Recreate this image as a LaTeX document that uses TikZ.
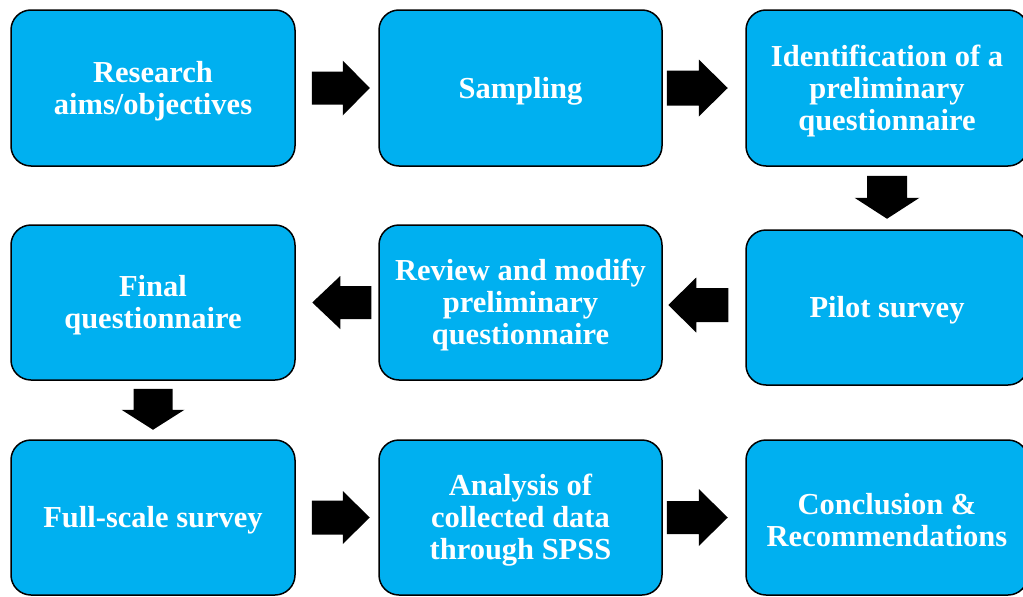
\documentclass[tikz,border=0pt]{standalone}
\usepackage{fontspec}
\setmainfont{Liberation Serif}
\usetikzlibrary{calc}
\definecolor{boxblue}{HTML}{00B0F0}
\tikzset{
  stepbox/.style={draw=black, line width=1.5pt, fill=boxblue, rounded corners=20pt, inner sep=0pt},
  steptext/.style={text=white, font=\bfseries\fontsize{30.5}{32}\selectfont, align=center, inner sep=0pt},
  arrowfill/.style={fill=black}
}
% #1 origin, #2 rotation, #3 length, #4 shaft half width, #5 head half width, #6 head length
\newcommand\blockarr[6]{%
  \begin{scope}[shift={#1}, rotate=#2]
    \fill[arrowfill] (0,-#4) -- ({#3-#6},-#4) -- ({#3-#6},-#5) -- (#3,0)
      -- ({#3-#6},#5) -- ({#3-#6},#4) -- (0,#4) -- cycle;
  \end{scope}}
\begin{document}
\begin{tikzpicture}[x=1pt,y=-1pt]
\useasboundingbox (0,0) rectangle (1023,597);
\fill[white] (0,0) rectangle (1023,597);
\clip (0,0) rectangle (1023,597);
% boxes
\node[stepbox, minimum width=284pt, minimum height=156pt] (b1) at (153,88) {};
\node[stepbox, minimum width=283pt, minimum height=156pt] (b2) at (520.5,88) {};
\node[stepbox, minimum width=282pt, minimum height=156pt] (b3) at (887,88) {};
\node[stepbox, minimum width=284pt, minimum height=155pt] (b4) at (153,302.5) {};
\node[stepbox, minimum width=283pt, minimum height=155pt] (b5) at (520.5,302.5) {};
\node[stepbox, minimum width=282pt, minimum height=155pt] (b6) at (887,307.5) {};
\node[stepbox, minimum width=284pt, minimum height=155pt] (b7) at (153,517.5) {};
\node[stepbox, minimum width=283pt, minimum height=155pt] (b8) at (520.5,517.5) {};
\node[stepbox, minimum width=282pt, minimum height=155pt] (b9) at (887,517.5) {};
% texts
\node[steptext] (t1) at ($(b1.center)+(0,3)$) {Research\\aims/objectives};
\node[steptext] (t2) at ($(b2.center)+(0,3)$) {Sampling};
\node[steptext] (t3) at ($(b3.center)+(0,3)$) {Identification of a\\preliminary\\questionnaire};
\node[steptext] (t4) at ($(b4.center)+(0,3)$) {Final\\questionnaire};
\node[steptext] (t5) at ($(b5.center)+(0,3)$) {Review and modify\\preliminary\\questionnaire};
\node[steptext] (t6) at ($(b6.center)+(0,3)$) {Pilot survey};
\node[steptext] (t7) at ($(b7.center)+(0,3)$) {Full-scale survey};
\node[steptext] (t8) at ($(b8.center)+(0,3)$) {Analysis of\\collected data\\through SPSS};
\node[steptext] (t9) at ($(b9.center)+(0,3)$) {Conclusion \&\\Recommendations};
% block arrows
\blockarr{($(b1.east)+(16,0)$)}{0}{58}{16.5}{27.5}{27}
\blockarr{($(b2.east)+(4,0)$)}{0}{61}{17.5}{28.5}{29}
\blockarr{($(b3.south)+(0,9)$)}{-90}{43}{20}{32.5}{21}
\blockarr{($(b6.west)+(-17,-2.5)$)}{180}{60}{17}{27.5}{28}
\blockarr{($(b5.west)+(-7,0)$)}{180}{59}{16.5}{26.5}{28}
\blockarr{($(b4.south)+(0,8)$)}{-90}{41}{19.5}{31.5}{20}
\blockarr{($(b7.east)+(16,0)$)}{0}{58}{17}{26.5}{27}
\blockarr{($(b8.east)+(4,0)$)}{0}{61}{16.5}{28.5}{29}
\end{tikzpicture}
\end{document}
